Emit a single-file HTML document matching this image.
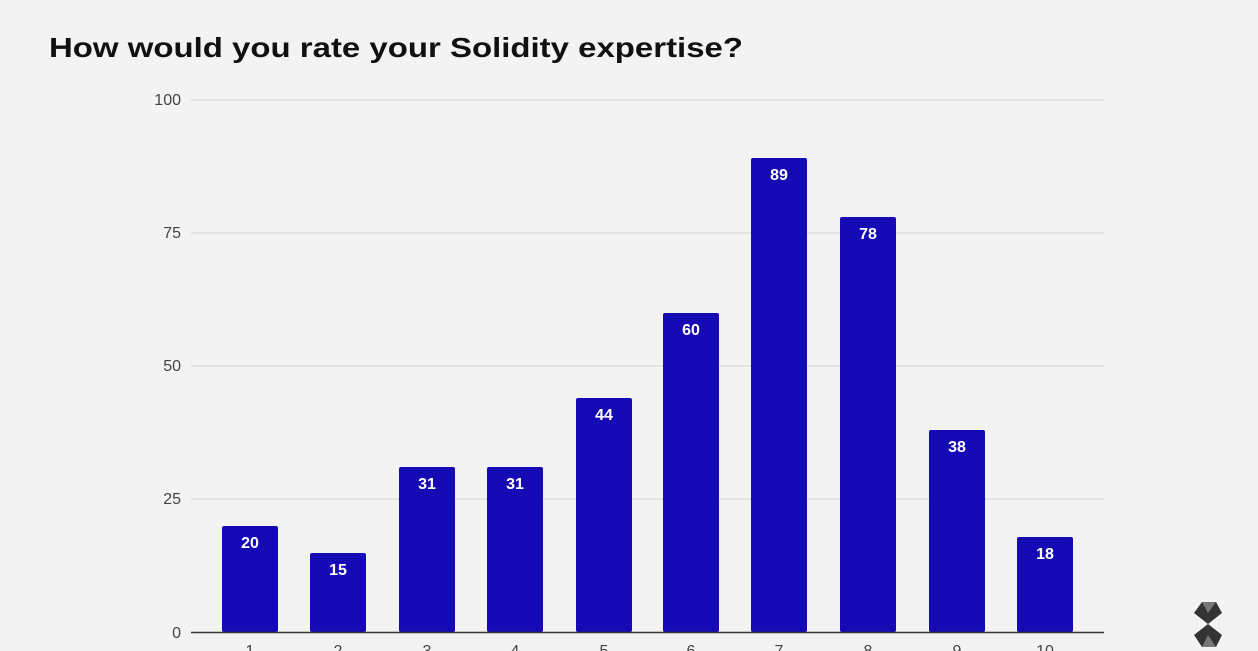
<!DOCTYPE html>
<html><head><style>
html,body{margin:0;padding:0;background:#f3f3f3;width:1258px;height:651px;overflow:hidden}
</style></head><body>
<svg width="1258" height="651" xmlns="http://www.w3.org/2000/svg" style="display:block">
<rect width="1258" height="651" fill="#f3f3f3"/>
<text x="49" y="57" font-family="Liberation Sans, sans-serif" font-weight="bold" font-size="28" fill="#111" textLength="694" lengthAdjust="spacingAndGlyphs">How would you rate your Solidity expertise?</text>
<g stroke="#d6d6d6" stroke-width="1">
<line x1="191" x2="1104" y1="100" y2="100"/>
<line x1="191" x2="1104" y1="233" y2="233"/>
<line x1="191" x2="1104" y1="366" y2="366"/>
<line x1="191" x2="1104" y1="499" y2="499"/>
</g>
<g font-family="Liberation Sans, sans-serif" font-size="16" fill="#444" text-anchor="end">
<text x="181" y="105">100</text>
<text x="181" y="238">75</text>
<text x="181" y="371">50</text>
<text x="181" y="504">25</text>
<text x="181" y="638">0</text>
</g>
<g fill="#150ab4">
<rect x="222" y="526" width="56" height="106" rx="2"/>
<rect x="310" y="553" width="56" height="79" rx="2"/>
<rect x="399" y="467" width="56" height="165" rx="2"/>
<rect x="487" y="467" width="56" height="165" rx="2"/>
<rect x="576" y="398" width="56" height="234" rx="2"/>
<rect x="663" y="313" width="56" height="319" rx="2"/>
<rect x="751" y="158" width="56" height="474" rx="2"/>
<rect x="840" y="217" width="56" height="415" rx="2"/>
<rect x="929" y="430" width="56" height="202" rx="2"/>
<rect x="1017" y="537" width="56" height="95" rx="2"/>
</g>
<g font-family="Liberation Sans, sans-serif" font-weight="bold" font-size="16" fill="#fff" text-anchor="middle">
<text x="250" y="548">20</text>
<text x="338" y="575">15</text>
<text x="427" y="489">31</text>
<text x="515" y="489">31</text>
<text x="604" y="420">44</text>
<text x="691" y="335">60</text>
<text x="779" y="180">89</text>
<text x="868" y="239">78</text>
<text x="957" y="452">38</text>
<text x="1045" y="559">18</text>
</g>
<line x1="191" x2="1104" y1="632.5" y2="632.5" stroke="#333" stroke-width="1.5"/>
<g font-family="Liberation Sans, sans-serif" font-size="16" fill="#444" text-anchor="middle">
<text x="250" y="656">1</text><text x="338" y="656">2</text><text x="427" y="656">3</text><text x="515" y="656">4</text><text x="604" y="656">5</text><text x="691" y="656">6</text><text x="779" y="656">7</text><text x="868" y="656">8</text><text x="957" y="656">9</text><text x="1045" y="656">10</text>
</g>
<g>
<polygon points="1202,602 1216,602 1222,613 1208,624 1194,613" fill="#333"/>
<polygon points="1202,602 1216,602 1208,613" fill="#777"/>
<polygon points="1208,624 1222,635 1216,647 1202,647 1194,635" fill="#333"/>
<polygon points="1202,647 1216,647 1208,635" fill="#777"/>
</g>
</svg>
</body></html>
